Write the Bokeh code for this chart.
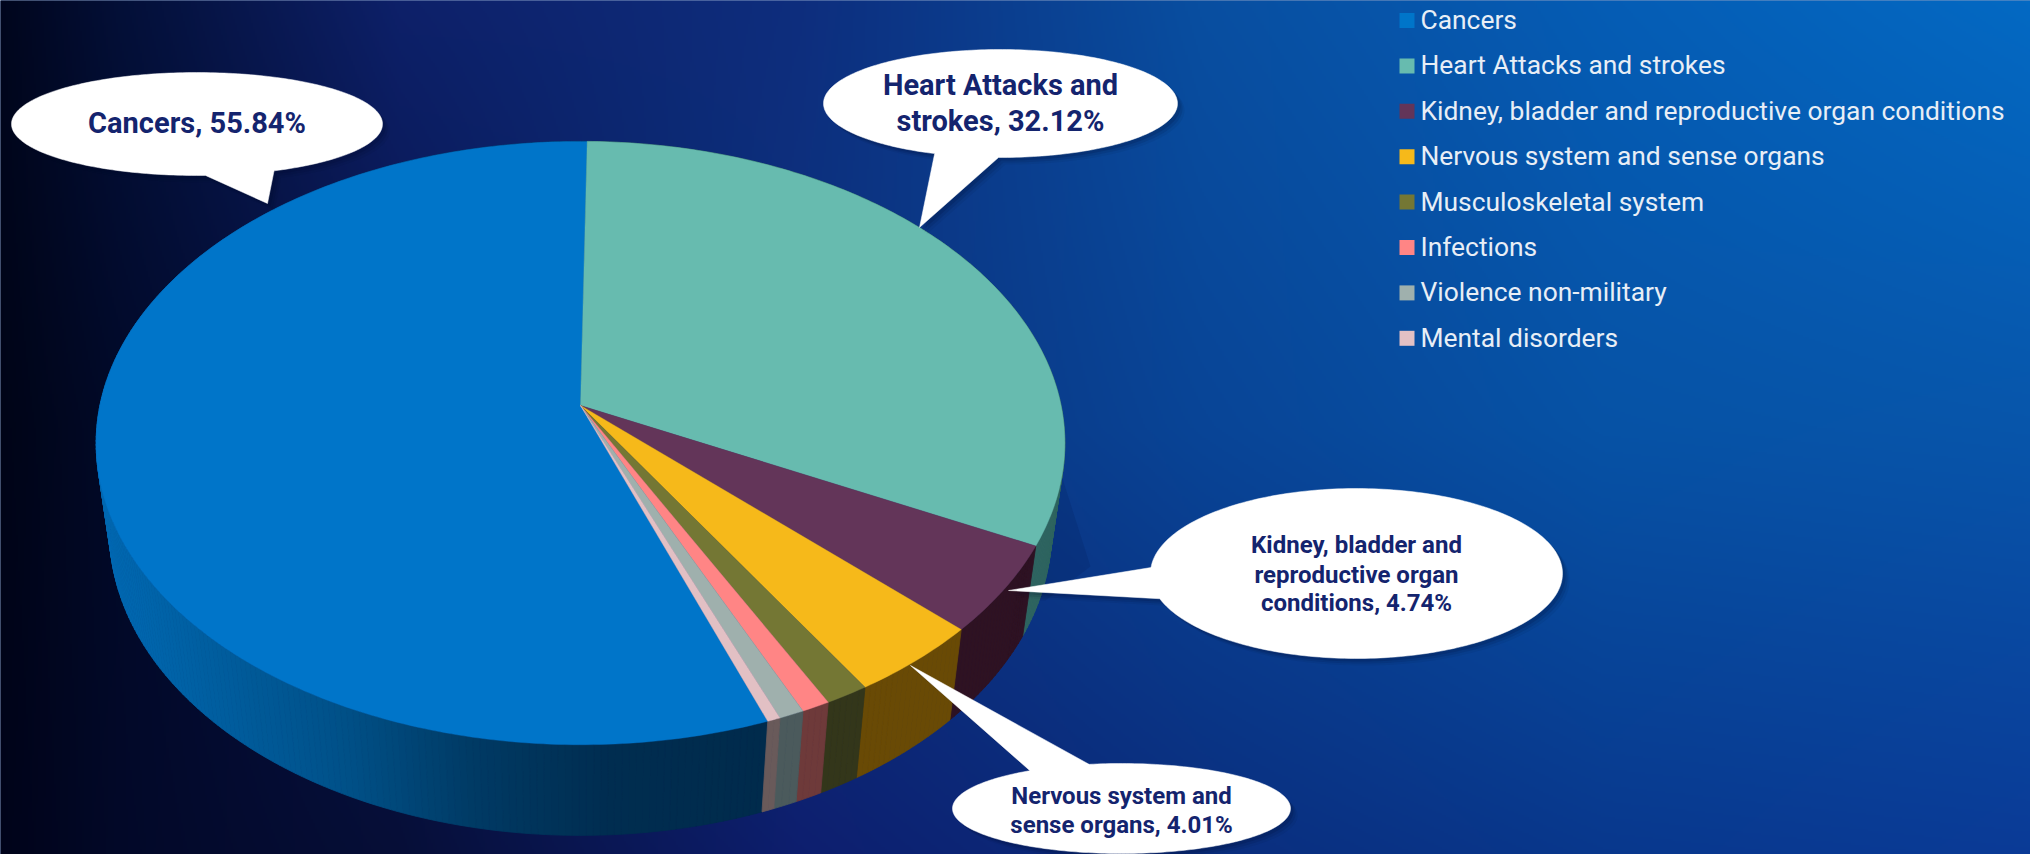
import numpy as np
from bokeh.plotting import figure
from bokeh.models import Range1d
from bokeh.core.properties import value
from bokeh.embed import file_html
from bokeh.resources import INLINE

W, H = 2030, 854

# Causes of death and their shares; the wheel runs clockwise in this order
causes = ["Cancers", "Heart Attacks and strokes",
          "Kidney, bladder and reproductive organ conditions",
          "Nervous system and sense organs", "Musculoskeletal system",
          "Infections", "Violence non-military", "Mental disorders"]
shares = [55.84, 32.12, 4.74, 4.01, 1.30, 0.85, 0.75, 0.39]
top_colors = ["#0075C9", "#67BBAF", "#633559", "#F6B91A", "#747734",
              "#FF8585", "#9FB0AD", "#E2C0C4"]
side_colors = ["#002D50", "#2F6560", "#2E1222", "#694A05", "#33361A",
               "#6E3A3A", "#4B5A5C", "#695A5A"]

# Callout texts, one entry per line
callout_lines = [["Cancers, 55.84%"],
                 ["Heart Attacks and", "strokes, 32.12%"],
                 ["Kidney, bladder and", "reproductive organ", "conditions, 4.74%"],
                 ["Nervous system and", "sense organs, 4.01%"]]

# Background colour lattice, interpolated into a smooth wash
bg_x = [0, 120, 400, 800, 1200, 1600, 2030]
bg_y = [0, 427, 854]
bg_rgb = [
    [(0, 5, 28), (3, 15, 55), (13, 32, 105), (13, 45, 125), (8, 78, 160), (5, 92, 180), (3, 105, 195)],
    [(0, 4, 22), (1, 9, 40), (7, 20, 75), (12, 50, 125), (8, 68, 150), (6, 82, 165), (7, 85, 170)],
    [(0, 3, 25), (2, 8, 40), (6, 14, 55), (13, 30, 110), (10, 45, 125), (8, 55, 140), (10, 58, 150)],
]

# Perspective projection of the pie disc
CX, CY = 580.0, 405.0
DX, DY, TILT = 480.6, 297.0, 0.1245
DROP_Y, DROP_W = 91.4, 0.028
# The largest slice ends just past twelve o'clock
END_OF_FIRST_DEG = 0.9


def project(cw_deg, lower=False):
    th = np.radians(90.0 - np.asarray(cw_deg, dtype=float))
    c, s = np.cos(th), np.sin(th)
    w = 1 + TILT * s + (DROP_W if lower else 0.0)
    py = -DY * s + (DROP_Y if lower else 0.0)
    return CX + DX * c / w, CY + py / w


def lerp_hex(stops, t):
    xs = [a for a, _ in stops]
    rgb = [[int(h[i:i + 2], 16) for i in (1, 3, 5)] for _, h in stops]
    out = [np.interp(t, xs, [r[k] for r in rgb]) for k in range(3)]
    return "#%02x%02x%02x" % tuple(int(round(v)) for v in out)


p = figure(width=W, height=H, output_backend="svg", toolbar_location=None,
           x_range=Range1d(0, W), y_range=Range1d(H, 0), min_border=0)
p.axis.visible = False
p.grid.visible = False
p.outline_line_color = None
p.background_fill_color = "#0A3A8C"
p.border_fill_color = "#0A3A8C"

# Background wash, bleeding a little past the frame
gx = np.linspace(0, W, W // 2)
gy = np.linspace(0, H, H // 2)
lattice = np.array(bg_rgb, dtype=float)
rows = np.stack([np.stack([np.interp(gx, bg_x, lattice[j, :, k]) for k in range(3)], axis=-1)
                 for j in range(len(bg_y))])
grid = np.stack([np.stack([np.interp(gy, bg_y, rows[:, i, k]) for k in range(3)], axis=-1)
                 for i in range(len(gx))], axis=1)
rgba = np.zeros((len(gy), len(gx)), dtype=np.uint32)
view = rgba.view(np.uint8).reshape(len(gy), len(gx), 4)
view[..., :3] = np.round(grid).astype(np.uint8)
view[..., 3] = 255
p.image_rgba(image=[rgba], x=-3, y=-3, dw=W + 6, dh=H + 6)

# Soft cast shadow to the right of the wall
p.patch([1062, 1090, 1045, 1000], [478, 566, 600, 600], fill_color="#001040",
        fill_alpha=0.13, line_color=None)

# Slice boundaries in degrees clockwise from the top
edges = END_OF_FIRST_DEG - shares[0] * 3.6 + np.concatenate([[0], np.cumsum(shares)]) * 3.6

# Cylinder wall: split into narrow facets so the largest slice can shade gradually
cancer_shade = [(0.0, "#0069B3"), (0.37, "#005087"), (0.56, "#003A64"), (0.76, "#002D50"), (1.0, "#002B4C")]
fx, fy, fc = [], [], []
for i in range(len(shares)):
    n = max(2, int((edges[i + 1] - edges[i]) / 0.75))
    ang = np.linspace(edges[i], edges[i + 1], n + 1)
    for a0, a1 in zip(ang[:-1], ang[1:]):
        tx, ty = project([a0, a1])
        bx, by = project([a1, a0], lower=True)
        fx.append(list(tx) + list(bx))
        fy.append(list(ty) + list(by))
        if i == 0:
            mx = project((a0 + a1) / 2)[0]
            t = (mx - 95.0) / 675.0
            fc.append(lerp_hex(cancer_shade, float(np.clip(t, 0, 1))))
        else:
            fc.append(side_colors[i])
p.patches(fx, fy, fill_color=fc, line_color=fc, line_width=0.8)

# Top face
sx, sy, sc = [], [], []
for i in range(len(shares)):
    n = max(4, int((edges[i + 1] - edges[i]) / 0.75))
    px, py = project(np.linspace(edges[i], edges[i + 1], n + 1))
    sx.append([CX] + list(px))
    sy.append([CY] + list(py))
    sc.append(top_colors[i])
p.patches(sx, sy, fill_color=sc, line_color=sc, line_width=0.4)


def bubble(cx, cy, rx, ry, tail):
    # Ellipse outline taken the long way round between the tail's two bases
    a0 = np.arctan2((tail[0][1] - cy) / ry, (tail[0][0] - cx) / rx)
    a1 = np.arctan2((tail[2][1] - cy) / ry, (tail[2][0] - cx) / rx)
    d = (a1 - a0) % (2 * np.pi)
    if d < np.pi:
        d -= 2 * np.pi
    ang = a0 + np.linspace(0, d, 240)
    xs = list(cx + rx * np.cos(ang))
    ys = list(cy + ry * np.sin(ang))
    return xs + [tail[1][0]], ys + [tail[1][1]]


# Callouts: ellipse centre, radii, tail base/tip/base, line positions and text size
callouts = [
    dict(c=(196.5, 123.5), r=(185.5, 51.5), tail=[(205, 175), (267, 203), (273, 170)],
         ty=[122], size="29px"),
    dict(c=(1000, 103), r=(177, 54), tail=[(998, 158), (919, 227), (933, 154)],
         ty=[84, 120], size="29px"),
    dict(c=(1356, 573), r=(206, 85), tail=[(1161, 598), (1008, 590), (1149, 567)],
         ty=[544, 574, 602], size="24px"),
    dict(c=(1121, 808), r=(169, 45), tail=[(1088, 763), (910, 665), (1029, 770)],
         ty=[795, 824], size="24px"),
]
for co, lines in zip(callouts, callout_lines):
    bx, by = bubble(*co["c"], *co["r"], co["tail"])
    for off, alpha in ((7, 0.06), (5, 0.10), (3, 0.14)):
        p.patch([v + off for v in bx], [v + off for v in by], fill_color="#000A28",
                fill_alpha=alpha, line_color=None)
    p.patch(bx, by, fill_color="#FFFFFF", line_color="#FFFFFF", line_width=0.5)
    p.text(x=[co["c"][0]] * len(lines), y=co["ty"], text=lines,
           text_font=value("Roboto"), text_font_style="bold",
           text_font_size=co["size"], text_color="#14246E",
           text_align="center", text_baseline="middle")

# Legend column
leg_y = [19.5 + 45.4 * i for i in range(len(causes))]
p.quad(left=[1399] * len(causes), right=[1414] * len(causes),
       top=[v - 7.5 + 0.5 for v in leg_y], bottom=[v + 7.5 + 0.5 for v in leg_y],
       fill_color=top_colors, line_color=None)
p.text(x=[1420] * len(causes), y=leg_y, text=causes,
       text_font=value("Roboto"), text_font_size="26.4px", text_color="#E8EEF6",
       text_align="left", text_baseline="middle")

open("out.html", "w").write(file_html(p, INLINE))
